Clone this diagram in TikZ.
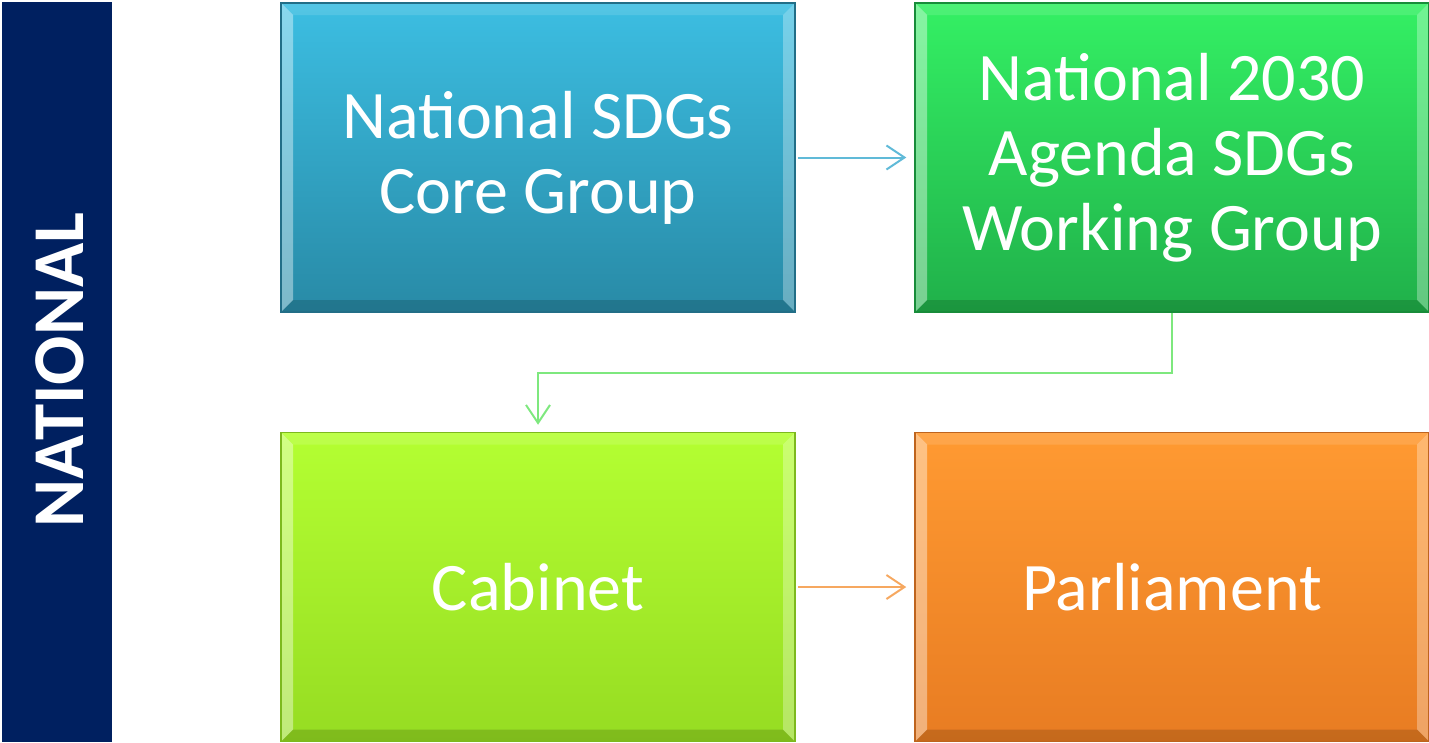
\documentclass[tikz,border=0pt]{standalone}
\usepackage{fontspec}
\setmainfont{Carlito}
\usetikzlibrary{arrows.meta}

\definecolor{barblue}{RGB}{0,32,96}
\definecolor{coretop}{RGB}{60,190,226}
\definecolor{corebot}{RGB}{40,138,166}
\definecolor{coreline}{RGB}{34,110,135}
\definecolor{worktop}{RGB}{52,240,100}
\definecolor{workbot}{RGB}{32,176,74}
\definecolor{workline}{RGB}{24,140,58}
\definecolor{cabtop}{RGB}{180,255,50}
\definecolor{cabbot}{RGB}{150,220,34}
\definecolor{cabline}{RGB}{125,185,30}
\definecolor{parltop}{RGB}{255,154,50}
\definecolor{parlbot}{RGB}{232,124,34}
\definecolor{parlline}{RGB}{190,100,30}
\definecolor{corearrow}{RGB}{96,186,216}
\definecolor{workarrow}{RGB}{126,232,126}
\definecolor{parlarrow}{RGB}{246,168,96}

\tikzset{
  box/.style={rectangle, minimum width=514pt, minimum height=309pt, inner sep=0pt,
    text=white, align=center, font=\fontsize{68}{75}\selectfont, line width=1.5pt,
    path picture={
      \fill[white, opacity=0.4] (path picture bounding box.south west) -- (path picture bounding box.north west)
        -- ([shift={(12pt,-12pt)}]path picture bounding box.north west) -- ([shift={(12pt,12pt)}]path picture bounding box.south west) -- cycle;
      \fill[white, opacity=0.12] (path picture bounding box.north west) -- (path picture bounding box.north east)
        -- ([shift={(-12pt,-12pt)}]path picture bounding box.north east) -- ([shift={(12pt,-12pt)}]path picture bounding box.north west) -- cycle;
      \fill[white, opacity=0.3] (path picture bounding box.north east) -- (path picture bounding box.south east)
        -- ([shift={(-12pt,12pt)}]path picture bounding box.south east) -- ([shift={(-12pt,-12pt)}]path picture bounding box.north east) -- cycle;
      \fill[black, opacity=0.15] (path picture bounding box.south west) -- (path picture bounding box.south east)
        -- ([shift={(-12pt,12pt)}]path picture bounding box.south east) -- ([shift={(12pt,12pt)}]path picture bounding box.south west) -- cycle;
    }},
  link/.style={line width=2pt, shorten <=2pt, shorten >=8pt, -{Straight Barb[length=18pt,width=24pt,line width=2pt]}}
}

\begin{document}
\begin{tikzpicture}[x=1pt, y=-1pt]
  \useasboundingbox (0,0) rectangle (1429,742);
  \fill [barblue] (2,2) rectangle (112,742);
  \node [rotate=90, text=white, font=\bfseries\fontsize{73}{80}\selectfont, inner sep=0pt] (nat) at (60,370) {NATIONAL};

  \node [box, top color=coretop, bottom color=corebot, draw=coreline] (core) at (538,157.5) {National SDGs\\Core Group};
  \node [box, top color=worktop, bottom color=workbot, draw=workline] (work) at (1172,157.5) {National 2030\\Agenda SDGs\\Working Group};
  \node [box, top color=cabtop, bottom color=cabbot, draw=cabline] (cab) at (538,587) {Cabinet};
  \node [box, top color=parltop, bottom color=parlbot, draw=parlline] (parl) at (1172,587) {Parliament};

  \draw [link, corearrow] (core.east) -- (work.west);
  \draw [link, workarrow, shorten <=0pt, shorten >=7pt] (work.south) -- ++(0,60) -| (cab.north);
  \draw [link, parlarrow] (cab.east) -- (parl.west);
\end{tikzpicture}
\end{document}
